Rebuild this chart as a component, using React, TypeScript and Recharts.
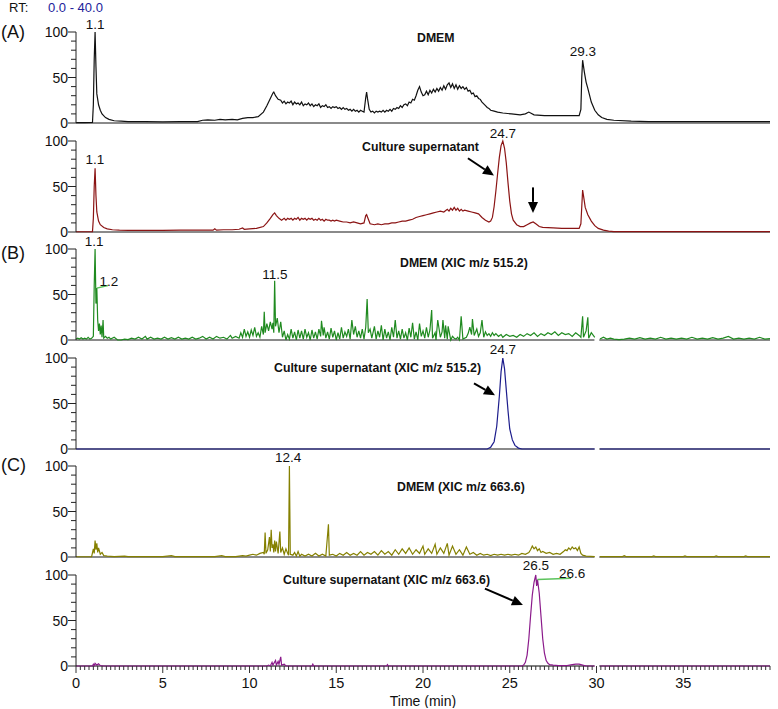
import React from 'react';
import { LineChart, Line, XAxis, YAxis, ReferenceLine, ReferenceDot } from 'recharts';

type Pt = [number, number];

// retention time (min), relative abundance (%)
const dmemTic: Pt[] = [
  [0, 0.5], [0.5, 0.5], [0.95, 0.6], [1.0, 20], [1.05, 70], [1.1, 100], [1.15, 62], [1.2, 32], [1.3, 20], [1.4, 14],
  [1.5, 10], [1.7, 6], [1.9, 4], [2.2, 2.5], [2.6, 2], [3, 1.5], [4, 1.5], [5, 1.3], [6, 1.5], [7, 1.5],
  [7.3, 3], [7.6, 3.5], [8, 3], [8.3, 4], [8.6, 3.5], [9, 4], [9.3, 3.5], [9.6, 5], [9.9, 6], [10.2, 6],
  [10.5, 7], [10.8, 12], [11.0, 19], [11.2, 27], [11.35, 33], [11.4, 34], [11.5, 30], [11.65, 26], [11.8, 25], [11.9, 22],
  [12.0, 24], [12.1, 21], [12.2, 23], [12.3, 22], [12.4, 24], [12.5, 20], [12.6, 23], [12.7, 21], [12.8, 22], [12.9, 20],
  [13.0, 23], [13.1, 19], [13.2, 21], [13.3, 20], [13.4, 22], [13.5, 19], [13.6, 21], [13.7, 18], [13.8, 20], [13.9, 19],
  [14.0, 21], [14.1, 17], [14.2, 19], [14.3, 18], [14.4, 20], [14.5, 17], [14.6, 18], [14.7, 16], [14.8, 18], [14.9, 17],
  [15.0, 18], [15.1, 16], [15.2, 17], [15.3, 15], [15.4, 17], [15.5, 15], [15.6, 16], [15.7, 14], [15.8, 15], [15.9, 13],
  [16.0, 15], [16.1, 13], [16.2, 14], [16.3, 12], [16.4, 14], [16.5, 13], [16.6, 12], [16.7, 28], [16.75, 34], [16.8, 27],
  [16.9, 15], [17.0, 12], [17.1, 13], [17.2, 11], [17.3, 13], [17.4, 12], [17.5, 13], [17.6, 12], [17.7, 14], [17.8, 12],
  [17.9, 14], [18.0, 13], [18.1, 15], [18.2, 13], [18.3, 16], [18.4, 15], [18.5, 17], [18.6, 16], [18.7, 19], [18.8, 17],
  [18.9, 20], [19.0, 21], [19.1, 19], [19.2, 23], [19.3, 22], [19.4, 26], [19.5, 25], [19.6, 30], [19.7, 36], [19.8, 40],
  [19.9, 34], [20.0, 30], [20.1, 31], [20.2, 35], [20.3, 31], [20.4, 36], [20.5, 33], [20.6, 37], [20.7, 34], [20.8, 38],
  [20.9, 35], [21.0, 39], [21.1, 36], [21.2, 41], [21.3, 37], [21.4, 42], [21.5, 44], [21.6, 39], [21.7, 43], [21.8, 38],
  [21.9, 42], [22.0, 37], [22.1, 41], [22.2, 38], [22.3, 40], [22.4, 37], [22.5, 39], [22.6, 35], [22.7, 36], [22.8, 32],
  [22.9, 33], [23.0, 29], [23.1, 30], [23.2, 27], [23.3, 26], [23.4, 23], [23.5, 21], [23.6, 19], [23.7, 17], [23.8, 16],
  [23.9, 14], [24.1, 13], [24.3, 12], [24.6, 11], [25.1, 10], [25.6, 9], [25.9, 10], [26.1, 12], [26.4, 9], [27, 8],
  [28, 8], [29.0, 8], [29.1, 15], [29.15, 50], [29.2, 69], [29.3, 56], [29.4, 45], [29.5, 38], [29.7, 23], [29.9, 14],
  [30.1, 9], [30.3, 6], [30.6, 4], [31, 3], [32, 2], [33, 1.5], [35, 1.5], [37, 1.5], [40, 1.5],
];

const cultureTic: Pt[] = [
  [0, 0.3], [0.95, 0.4], [1.0, 15], [1.05, 50], [1.1, 70], [1.15, 40], [1.2, 22], [1.3, 12], [1.4, 8], [1.6, 5],
  [1.8, 3.5], [2.1, 2.5], [2.5, 2], [3, 1.8], [4, 1.8], [5, 1.8], [6, 2], [7, 2], [7.9, 2], [8.0, 3.5],
  [8.1, 2], [8.5, 2.5], [9, 2.5], [9.4, 3], [9.6, 4.5], [9.7, 3], [10, 3.5], [10.4, 4], [10.8, 6], [11.0, 10],
  [11.2, 15], [11.35, 19], [11.45, 21], [11.55, 18], [11.7, 15], [11.85, 13], [12.0, 15], [12.1, 13], [12.2, 15], [12.3, 14],
  [12.4, 15], [12.5, 13], [12.6, 15], [12.7, 14], [12.8, 16], [12.9, 13], [13.0, 15], [13.1, 14], [13.2, 15], [13.3, 13],
  [13.4, 15], [13.5, 14], [13.6, 15], [13.7, 13], [13.8, 14], [13.9, 13], [14.0, 15], [14.1, 13], [14.2, 14], [14.3, 12],
  [14.4, 14], [14.5, 13], [14.6, 13], [14.7, 12], [14.8, 13], [14.9, 12], [15.0, 13], [15.2, 12], [15.4, 11], [15.6, 11],
  [15.8, 10], [16.0, 11], [16.2, 10], [16.4, 9], [16.6, 10], [16.7, 18], [16.75, 19], [16.85, 14], [16.95, 9], [17.2, 8],
  [17.4, 9], [17.6, 8], [17.8, 9], [18.0, 9], [18.2, 10], [18.4, 10], [18.6, 11], [18.8, 12], [19.0, 12], [19.2, 13],
  [19.4, 14], [19.6, 16], [19.8, 17], [20.0, 18], [20.2, 19], [20.4, 20], [20.6, 21], [20.8, 22], [21.0, 23], [21.2, 22],
  [21.4, 25], [21.5, 23], [21.6, 26], [21.7, 24], [21.8, 27], [21.9, 24], [22.0, 26], [22.1, 23], [22.2, 25], [22.3, 23],
  [22.4, 24], [22.6, 23], [22.8, 22], [23.0, 21], [23.2, 20], [23.4, 16], [23.6, 13], [23.8, 11], [23.9, 12], [24.0, 16],
  [24.1, 28], [24.2, 45], [24.3, 64], [24.4, 82], [24.5, 95], [24.6, 100], [24.7, 92], [24.8, 76], [24.9, 54], [25.0, 34],
  [25.1, 20], [25.2, 13], [25.4, 8], [25.6, 6], [25.8, 6], [26.0, 8], [26.2, 10], [26.35, 11], [26.5, 9], [26.7, 6],
  [26.9, 5], [27.5, 4.5], [28, 4], [28.5, 4], [29.0, 4], [29.1, 9], [29.2, 46], [29.25, 40], [29.35, 27], [29.5, 19],
  [29.7, 12], [29.9, 7], [30.1, 4], [30.4, 2], [30.7, 1], [31, 0.5], [35, 0.5], [40, 0.5],
];

const dmemXic515Left: Pt[] = [
  [0, 1], [0.1, 2], [0.2, 1], [0.3, 2.5], [0.4, 1], [0.5, 2], [0.6, 1], [0.7, 3], [0.8, 1], [0.9, 2],
  [1.0, 4], [1.05, 60], [1.1, 100], [1.15, 40], [1.2, 57], [1.25, 22], [1.3, 10], [1.35, 18], [1.4, 6], [1.45, 16],
  [1.5, 3], [1.56, 22], [1.6, 2], [1.7, 4], [1.8, 2], [1.9, 3], [2.0, 1], [2.2, 3], [2.4, 0], [2.6, 0],
  [2.8, 1], [3.0, 0.5], [3.2, 2], [3.4, 1], [3.6, 3], [3.8, 1], [4.0, 4], [4.1, 1], [4.3, 3], [4.5, 1],
  [4.7, 2], [4.9, 1], [5.1, 3], [5.3, 1], [5.5, 2.5], [5.7, 1], [5.9, 3], [6.1, 1], [6.3, 2], [6.5, 1],
  [6.7, 3], [6.9, 1], [7.1, 2], [7.3, 4], [7.5, 1], [7.7, 3], [7.9, 1], [8.1, 4], [8.3, 2], [8.5, 3],
  [8.7, 1], [8.9, 5], [9.0, 2], [9.2, 4], [9.4, 2], [9.5, 8], [9.6, 3], [9.7, 12], [9.8, 4], [9.9, 9],
  [10.0, 3], [10.1, 11], [10.2, 5], [10.3, 14], [10.4, 4], [10.5, 8], [10.6, 3], [10.7, 15], [10.8, 6], [10.85, 31],
  [10.9, 8], [11.0, 18], [11.1, 10], [11.2, 20], [11.3, 12], [11.35, 19], [11.4, 8], [11.45, 65], [11.5, 15], [11.6, 24],
  [11.7, 8], [11.8, 20], [11.9, 3], [12.0, 10], [12.1, 0], [12.2, 6], [12.3, 1], [12.4, 12], [12.5, 2], [12.6, 9],
  [12.7, 0], [12.8, 11], [12.9, 2], [13.0, 10], [13.1, 1], [13.2, 12], [13.3, 3], [13.4, 8], [13.5, 0], [13.6, 11],
  [13.7, 2], [13.8, 9], [13.9, 1], [14.0, 12], [14.1, 4], [14.15, 21], [14.25, 5], [14.3, 14], [14.4, 2], [14.5, 9],
  [14.6, 1], [14.7, 13], [14.8, 3], [14.9, 10], [15.0, 0], [15.1, 8], [15.2, 1], [15.3, 14], [15.4, 2], [15.5, 9],
  [15.6, 4], [15.7, 12], [15.8, 1], [15.9, 22], [16.0, 6], [16.1, 15], [16.2, 3], [16.3, 10], [16.4, 2], [16.5, 12],
  [16.6, 1], [16.7, 14], [16.78, 45], [16.85, 8], [16.95, 12], [17.05, 2], [17.2, 15], [17.3, 1], [17.4, 10], [17.5, 3],
  [17.6, 16], [17.7, 0], [17.8, 12], [17.9, 2], [18.0, 9], [18.1, 0], [18.2, 14], [18.3, 3], [18.4, 22], [18.5, 2],
  [18.6, 10], [18.7, 1], [18.8, 12], [18.9, 2], [19.0, 8], [19.1, 0], [19.2, 13], [19.3, 3], [19.4, 19], [19.5, 1],
  [19.6, 9], [19.7, 0], [19.8, 18], [19.9, 4], [20.0, 10], [20.1, 2], [20.2, 14], [20.3, 3], [20.4, 11], [20.5, 33],
  [20.55, 2], [20.7, 8], [20.75, 0], [20.85, 22], [21.0, 3], [21.1, 9], [21.15, 22], [21.25, 2], [21.3, 16], [21.4, 1],
  [21.45, 15], [21.6, 0], [21.7, 4], [21.8, 2], [21.9, 1], [22.0, 3], [22.1, 0], [22.2, 26], [22.3, 1], [22.5, 3],
  [22.6, 7], [22.7, 14], [22.8, 6], [22.85, 23], [22.95, 5], [23.1, 12], [23.2, 4], [23.3, 8], [23.4, 22], [23.5, 3],
  [23.6, 9], [23.7, 5], [23.8, 7], [23.9, 4], [24.0, 8], [24.1, 5], [24.2, 7], [24.35, 4], [24.5, 6], [24.6, 3],
  [24.8, 6], [25.0, 4], [25.2, 5], [25.4, 3], [25.6, 6], [25.8, 4], [26.0, 7], [26.2, 5], [26.4, 8], [26.6, 4],
  [26.8, 7], [27.0, 5], [27.2, 8], [27.4, 6], [27.6, 9], [27.8, 5], [28.0, 8], [28.2, 6], [28.4, 7], [28.6, 4],
  [28.8, 8], [29.0, 5], [29.1, 3], [29.2, 26], [29.25, 3], [29.4, 10], [29.5, 25], [29.55, 2], [29.7, 8], [29.9, 3],
];
const dmemXic515Right: Pt[] = [
  [30.2, 1], [30.4, 3], [30.6, 1], [30.8, 2], [31.0, 1], [31.3, 0.5], [31.6, 1], [31.9, 2], [32.2, 1], [32.5, 2.5],
  [32.8, 1], [33.1, 2], [33.4, 1], [33.7, 3], [34.0, 1], [34.3, 2], [34.6, 1], [34.9, 2], [35.2, 1], [35.5, 3],
  [35.8, 1], [36.1, 2], [36.4, 1], [36.7, 2.5], [37.0, 1], [37.3, 2], [37.6, 4], [37.9, 1], [38.2, 2], [38.5, 1],
  [38.8, 2], [39.1, 1], [39.4, 3], [39.7, 1], [40, 1.5],
];

const cultureXic515Left: Pt[] = [
  [0, 0], [23.7, 0], [23.9, 2], [24.1, 8], [24.25, 25], [24.4, 58], [24.5, 85], [24.6, 100], [24.7, 88], [24.8, 65],
  [24.9, 42], [25.0, 22], [25.15, 10], [25.3, 4], [25.5, 1], [25.7, 0], [29.9, 0],
];
const cultureXic515Right: Pt[] = [[30.2, 0], [40, 0]];

const dmemXic663Left: Pt[] = [
  [0, 0.3], [0.5, 0.3], [0.9, 0.5], [1.0, 9], [1.05, 4], [1.1, 18], [1.15, 8], [1.2, 15], [1.25, 5], [1.3, 10],
  [1.4, 3], [1.5, 5], [1.6, 1.5], [1.8, 1], [2.2, 0.5], [2.8, 1], [3.0, 0.5], [4, 0.5], [5, 0.5], [5.5, 1.5],
  [5.7, 0.5], [7, 0.5], [8, 0.5], [8.4, 1.5], [8.6, 0.5], [9.2, 0.5], [9.6, 1.5], [9.8, 1], [10.0, 2], [10.2, 3],
  [10.4, 2], [10.6, 4], [10.8, 5], [10.85, 3], [10.9, 27], [10.95, 4], [11.05, 8], [11.15, 22], [11.2, 6], [11.25, 30],
  [11.3, 10], [11.35, 14], [11.4, 5], [11.45, 18], [11.5, 6], [11.55, 17], [11.65, 4], [11.75, 28], [11.8, 5], [11.9, 10],
  [12.0, 3], [12.1, 9], [12.2, 4], [12.25, 2], [12.3, 100], [12.35, 3], [12.5, 2], [12.6, 5], [12.7, 1], [12.8, 6],
  [12.9, 1], [13.0, 3], [13.2, 1], [13.4, 3], [13.6, 1], [13.8, 4], [14.0, 1], [14.2, 3], [14.4, 1], [14.55, 36],
  [14.6, 2], [14.8, 3], [15.0, 1], [15.2, 4], [15.4, 2], [15.6, 5], [15.8, 2], [16.0, 4], [16.2, 2], [16.4, 6],
  [16.6, 2], [16.8, 5], [17.0, 3], [17.2, 6], [17.4, 2], [17.6, 7], [17.8, 3], [18.0, 6], [18.2, 2], [18.4, 8],
  [18.6, 3], [18.8, 9], [19.0, 4], [19.2, 10], [19.4, 3], [19.6, 8], [19.8, 4], [20.0, 12], [20.1, 3], [20.3, 9],
  [20.5, 4], [20.7, 14], [20.8, 3], [21.0, 10], [21.2, 4], [21.4, 15], [21.5, 2], [21.7, 12], [21.9, 3], [22.1, 8],
  [22.3, 2], [22.5, 11], [22.7, 3], [22.9, 5], [23.1, 2], [23.3, 4], [23.5, 2], [23.7, 3], [23.9, 1.5], [24.1, 3],
  [24.3, 2], [24.5, 3], [24.7, 2], [24.9, 3], [25.1, 2], [25.3, 3], [25.5, 2], [25.7, 4], [25.9, 3], [26.1, 5],
  [26.2, 8], [26.3, 12], [26.4, 9], [26.5, 11], [26.6, 7], [26.7, 9], [26.8, 5], [26.9, 6], [27.1, 4], [27.3, 5],
  [27.5, 3], [27.7, 4], [27.9, 3], [28.1, 6], [28.2, 8], [28.3, 7], [28.4, 10], [28.5, 8], [28.6, 11], [28.7, 9],
  [28.8, 10], [28.9, 7], [29.0, 11], [29.1, 4], [29.2, 2], [29.4, 1], [29.9, 0.5],
];
const dmemXic663Right: Pt[] = [
  [30.2, 0.5], [31.5, 0.5], [31.6, 1.5], [31.7, 0.5], [33.2, 0.5], [33.3, 1.2], [33.4, 0.5], [35, 0.5], [35.1, 1.2], [35.2, 0.5],
  [36.8, 0.5], [36.9, 1.2], [37, 0.5], [38.5, 0.5], [38.6, 1.2], [38.7, 0.5], [40, 0.5],
];

const cultureXic663Left: Pt[] = [
  [0, 0], [0.95, 0], [1.0, 2], [1.05, 0.5], [1.1, 3], [1.2, 1], [1.3, 2.5], [1.4, 0.5], [1.6, 0], [11.0, 0],
  [11.1, 1], [11.2, 0], [11.3, 4], [11.35, 1], [11.5, 6], [11.55, 1], [11.65, 5], [11.7, 2], [11.8, 10], [11.85, 1],
  [12.0, 2], [12.1, 0], [13.6, 0], [13.65, 2], [13.7, 0], [17.9, 0], [17.95, 1.5], [18, 0], [25.7, 0], [25.8, 1],
  [25.9, 4], [26.0, 12], [26.1, 30], [26.2, 55], [26.3, 78], [26.4, 92], [26.5, 100], [26.55, 88], [26.6, 95], [26.7, 80],
  [26.8, 55], [26.9, 30], [27.0, 14], [27.1, 6], [27.2, 3], [27.3, 1.5], [27.5, 1], [27.8, 0.5], [28.3, 0.5], [28.6, 1.5],
  [28.8, 2], [29.0, 2], [29.2, 1], [29.4, 0], [29.9, 0],
];
const cultureXic663Right: Pt[] = [[30.2, 0], [40, 0]];

const timeTicks = [0, 5, 10, 15, 20, 25, 30, 35];
const abundanceTicks = [0, 10, 20, 30, 40, 50, 60, 70, 80, 90, 100];

const FONT = 'Arial, "Liberation Sans", Helvetica, sans-serif';
const W = 778;
const PLOT_H = 91;
const TOP_PAD = 24;
const AXIS_W = 76;
const RIGHT_PAD = 8;

const toRows = (pts: Pt[]) => pts.map(([t, v]) => ({ t, v }));
const withBreak = (left: Pt[], right: Pt[]) => [...toRows(left), { t: 30, v: null }, ...toRows(right)];

const minorTimeTicks: number[] = [];
for (let i = 0; i <= 160; i++) minorTimeTicks.push(i * 0.25);

const YTick = (props: any) => {
  const { x, y, payload } = props;
  const major = payload.value % 50 === 0;
  return (
    <g>
      <line x1={x - (major ? 8 : 5)} x2={x} y1={y} y2={y} stroke="#222" strokeWidth={1} />
      {major && (
        <text x={x - 8} y={y} dy="0.36em" textAnchor="end" fontSize={14} fontFamily={FONT} fill="#111">
          {payload.value}
        </text>
      )}
    </g>
  );
};

const XTick = (props: any) => {
  const { x, y, payload } = props;
  const major = timeTicks.includes(payload.value);
  return (
    <g>
      <line x1={x} x2={x} y1={y} y2={y + (major ? 7 : 4)} stroke="#333" strokeWidth={1} />
      {major && (
        <text x={x} y={y + 17} dy="0.36em" textAnchor="middle" fontSize={14.5} fontFamily={FONT} fill="#111">
          {payload.value}
        </text>
      )}
    </g>
  );
};

const Arrow = (props: any) => {
  const { x1, y1, x2, y2 } = props;
  const a = Math.atan2(y2 - y1, x2 - x1);
  const L = 11;
  const H = 5;
  const bx = x2 - L * Math.cos(a);
  const by = y2 - L * Math.sin(a);
  const px = -Math.sin(a) * H;
  const py = Math.cos(a) * H;
  return (
    <g>
      <line x1={x1} y1={y1} x2={bx} y2={by} stroke="#000" strokeWidth={2} />
      <polygon points={`${x2},${y2} ${bx + px},${by + py} ${bx - px},${by - py}`} fill="#000" />
    </g>
  );
};

const peak = (t: number, v: number, text: string) => (
  <ReferenceDot
    key={`pk-${text}-${t}`}
    x={t}
    y={v}
    r={0}
    fill="none"
    stroke="none"
    ifOverflow="visible"
    label={{ value: text, position: 'center', fontSize: 13.5, fill: '#111', fontFamily: FONT }}
  />
);

const arrow = (t1: number, v1: number, t2: number, v2: number) => (
  <ReferenceLine
    key={`ar-${t1}-${v1}`}
    segment={[{ x: t1, y: v1 }, { x: t2, y: v2 }]}
    ifOverflow="visible"
    shape={Arrow}
  />
);

const leader = (t1: number, v1: number, t2: number, v2: number) => (
  <ReferenceLine
    key={`ld-${t1}-${v1}`}
    segment={[{ x: t1, y: v1 }, { x: t2, y: v2 }]}
    ifOverflow="visible"
    stroke="#5cc35c"
    strokeWidth={1.5}
  />
);

interface PanelProps {
  y100: number;
  rows: any[];
  color: string;
  split?: boolean;
  axis?: boolean;
  baseColor?: string;
  notes?: React.ReactNode[];
}

const Panel = ({ y100, rows, color, split, axis, baseColor = '#8a8a8a', notes = [] }: PanelProps) => {
  const axisH = axis ? 42 : 0;
  const bottomPad = axis ? 0 : 10;
  const h = TOP_PAD + PLOT_H + axisH + bottomPad;
  const baseSegs = split
    ? [[0, 29.88], [30.16, 40]]
    : [[0, 40]];
  return (
    <div style={{ position: 'absolute', left: 0, top: y100 - TOP_PAD }}>
      <LineChart width={W} height={h} margin={{ top: TOP_PAD, right: RIGHT_PAD, bottom: bottomPad, left: 0 }}>
        <XAxis
          type="number"
          dataKey="t"
          domain={[0, 40]}
          hide={!axis}
          ticks={minorTimeTicks}
          interval={0}
          tick={<XTick />}
          tickLine={false}
          axisLine={false}
          tickSize={0}
          tickMargin={0}
          height={axisH}
          label={axis ? { value: 'Time (min)', position: 'insideBottom', offset: 2, fontSize: 14, fill: '#111', fontFamily: FONT } : undefined}
        />
        <YAxis
          type="number"
          domain={[0, 100]}
          ticks={abundanceTicks}
          interval={0}
          width={AXIS_W}
          tick={<YTick />}
          tickLine={false}
          tickSize={0}
          tickMargin={0}
          axisLine={{ stroke: '#222', strokeWidth: 1 }}
        />
        {baseSegs.map(([a, b]) => (
          <ReferenceLine
            key={`base-${a}`}
            segment={[{ x: a, y: 0 }, { x: b, y: 0 }]}
            stroke={axis ? '#555' : baseColor}
            strokeWidth={axis ? 1.5 : 2}
            ifOverflow="visible"
          />
        ))}
        <Line
          data={rows}
          dataKey="v"
          type="linear"
          stroke={color}
          strokeWidth={1.2}
          dot={false}
          activeDot={false}
          connectNulls={false}
          isAnimationActive={false}
        />
        {notes}
      </LineChart>
    </div>
  );
};

const captions = [
  { text: 'DMEM', x: 417, y: 38 },
  { text: 'Culture supernatant', x: 362, y: 147 },
  { text: 'DMEM (XIC m/z 515.2)', x: 400, y: 263 },
  { text: 'Culture supernatant (XIC m/z 515.2)', x: 274, y: 368 },
  { text: 'DMEM (XIC m/z 663.6)', x: 397, y: 487 },
  { text: 'Culture supernatant (XIC m/z 663.6)', x: 283, y: 580 },
];

export default function App() {
  return (
    <div style={{ position: 'absolute', left: 0, top: 0, width: W, height: 709, background: '#fff', fontFamily: FONT }}>
      <Panel
        y100={31.5}
        rows={toRows(dmemTic)}
        color="#111"
        notes={[peak(1.1, 109, '1.1'), peak(29.22, 79, '29.3')]}
      />
      <Panel
        y100={140.5}
        rows={toRows(cultureTic)}
        color="#8b1414"
        notes={[
          peak(1.09, 80, '1.1'),
          peak(24.61, 108.5, '24.7'),
          arrow(22.59, 81, 24.09, 62),
          arrow(26.34, 49, 26.34, 21),
        ]}
      />
      <Panel
        y100={248.5}
        rows={withBreak(dmemXic515Left, dmemXic515Right)}
        color="#1f8a1f"
        split
        notes={[
          peak(1.04, 109, '1.1'),
          leader(1.2, 57, 1.84, 60),
          peak(1.9, 65, '1.2'),
          peak(11.47, 72.5, '11.5'),
        ]}
      />
      <Panel
        y100={357.5}
        rows={withBreak(cultureXic515Left, cultureXic515Right)}
        color="#1c1c8c"
        split
        notes={[peak(24.61, 110, '24.7'), arrow(22.94, 72, 24.15, 59)]}
      />
      <Panel
        y100={466}
        rows={withBreak(dmemXic663Left, dmemXic663Right)}
        color="#858000"
        split
        notes={[peak(12.22, 109.6, '12.4')]}
      />
      <Panel
        y100={575}
        rows={withBreak(cultureXic663Left, cultureXic663Right)}
        color="#8b1a8b"
        split
        axis
        notes={[
          peak(26.51, 111, '26.5'),
          leader(26.6, 95, 28.53, 96.5),
          peak(28.59, 102.5, '26.6'),
          arrow(23.57, 85, 25.76, 67),
        ]}
      />
      <svg width={W} height={709} style={{ position: 'absolute', left: 0, top: 0, pointerEvents: 'none' }}>
        <text x={9} y={7} dy="0.36em" fontSize={13} fill="#111">RT:</text>
        <text x={48} y={7} dy="0.36em" fontSize={13} fill="#22229a">0.0 - 40.0</text>
        <text x={1} y={32} dy="0.36em" fontSize={18} fill="#111">(A)</text>
        <text x={1} y={253} dy="0.36em" fontSize={18} fill="#111">(B)</text>
        <text x={1} y={465} dy="0.36em" fontSize={18} fill="#111">(C)</text>
        {captions.map((c) => (
          <text key={c.text} x={c.x} y={c.y} dy="0.36em" fontSize={12.3} fontWeight="bold" fill="#111">
            {c.text}
          </text>
        ))}
      </svg>
    </div>
  );
}
